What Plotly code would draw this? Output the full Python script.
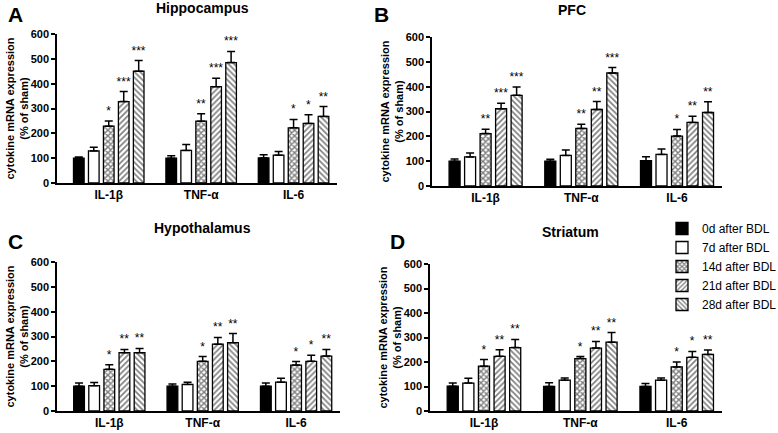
import plotly.graph_objects as go

cytokines = ["IL-1β", "TNF-α", "IL-6"]
time_points = ["0d after BDL", "7d after BDL", "14d after BDL", "21d after BDL", "28d after BDL"]

# mean (% of sham), one row per time point, columns IL-1β / TNF-α / IL-6
hippocampus_mean = [[100, 100, 101], [129, 131, 112], [229, 249, 222], [328, 388, 240], [450, 485, 268]]
hippocampus_sem = [[5, 10, 13], [15, 24, 15], [21, 30, 34], [40, 34, 35], [43, 45, 40]]
hippocampus_sig = [["", "", ""], ["", "", ""], ["*", "**", "*"], ["***", "***", "*"], ["***", "***", "**"]]

pfc_mean = [[100, 100, 102], [117, 123, 127], [211, 232, 201], [311, 308, 256], [365, 455, 296]]
pfc_sem = [[9, 8, 16], [16, 22, 22], [18, 17, 27], [22, 32, 25], [34, 22, 43]]
pfc_sig = [["", "", ""], ["", "", ""], ["**", "**", "*"], ["***", "**", "**"], ["***", "***", "**"]]

hypothalamus_mean = [[100, 100, 100], [102, 107, 116], [168, 200, 185], [235, 269, 200], [235, 275, 221]]
hypothalamus_sem = [[13, 9, 13], [13, 9, 16], [18, 19, 14], [13, 27, 25], [17, 37, 27]]
hypothalamus_sig = [["", "", ""], ["", "", ""], ["*", "*", "*"], ["**", "**", "*"], ["**", "**", "**"]]

striatum_mean = [[101, 100, 100], [114, 126, 126], [183, 214, 180], [223, 257, 219], [259, 281, 231]]
striatum_sem = [[13, 15, 12], [20, 9, 9], [27, 8, 20], [27, 27, 24], [33, 39, 18]]
striatum_sig = [["", "", ""], ["", "", ""], ["*", "*", "*"], ["**", "**", "*"], ["**", "**", "**"]]

panels = [
    ("A", "Hippocampus", hippocampus_mean, hippocampus_sem, hippocampus_sig),
    ("B", "PFC", pfc_mean, pfc_sem, pfc_sig),
    ("C", "Hypothalamus", hypothalamus_mean, hypothalamus_sem, hypothalamus_sig),
    ("D", "Striatum", striatum_mean, striatum_sem, striatum_sig),
]

W, H = 778, 433
# plot areas in pixels: left, right, top(600), bottom(0)
boxes = [(57, 337, 34, 183), (432, 722, 37, 186), (57, 340, 262, 411), (430, 722, 264, 411)]
# letter / title centres in pixels
letters = [(15, 15), (381, 15), (15, 241), (397, 241)]
titles = [(202, 8), (572, 10), (202, 228), (570, 232)]

FONT = "Liberation Sans, Arial, sans-serif"

fill = [
    dict(color="black"),
    dict(color="white"),
    dict(color="white", pattern=dict(shape="x", fgcolor="black", bgcolor="white", size=4, solidity=0.6)),
    dict(color="white", pattern=dict(shape="/", fgcolor="black", bgcolor="white", size=4, solidity=0.42)),
    dict(color="white", pattern=dict(shape="\\", fgcolor="black", bgcolor="white", size=4, solidity=0.42)),
]

fig = go.Figure()
layout = {}
annotations = []

for p, (letter, title, mean, sem, sig) in enumerate(panels):
    n = "" if p == 0 else str(p + 1)
    xa, ya = "x" + n, "y" + n
    for i, tp in enumerate(time_points):
        fig.add_trace(go.Bar(
            x=cytokines, y=mean[i], name=tp, xaxis=xa, yaxis=ya,
            offsetgroup=str(i), showlegend=(p == 3),
            marker=dict(line=dict(color="black", width=1.3), **fill[i]),
            error_y=dict(type="data", array=sem[i], arrayminus=[0, 0, 0], symmetric=False,
                         color="black", thickness=1.5, width=4),
        ))
        # invisible bars up to the error bar tip carry the significance stars
        fig.add_trace(go.Bar(
            x=cytokines, y=[m + s for m, s in zip(mean[i], sem[i])], xaxis=xa, yaxis=ya,
            offsetgroup=str(i), showlegend=False, hoverinfo="skip",
            marker=dict(color="rgba(0,0,0,0)", line=dict(width=0)),
            text=sig[i], textposition="outside", constraintext="none", cliponaxis=False,
            outsidetextfont=dict(family=FONT, size=12, color="black"),
        ))

    l, r, t, b = boxes[p]
    layout["xaxis" + n] = dict(
        domain=[l / W, r / W], anchor=ya, range=[-0.56, 2.47], automargin=False,
        showline=True, linecolor="black", linewidth=1.5, ticks="", showgrid=False,
        tickfont=dict(family=FONT, size=12, color="black", weight="bold"),
    )
    layout["yaxis" + n] = dict(
        domain=[1 - b / H, 1 - t / H], anchor=xa, range=[0, 600], dtick=100, automargin=False,
        showline=True, linecolor="black", linewidth=1.5, ticks="outside", ticklen=4,
        tickwidth=1.5, tickcolor="black", showgrid=False, zeroline=False,
        tickfont=dict(family=FONT, size=11, color="black", weight="bold"),
        title=dict(text="cytokine mRNA expression<br>(% of sham)", standoff=0,
                   font=dict(family=FONT, size=11, color="black", weight="bold")),
    )
    lx, ly = letters[p]
    annotations.append(dict(text="<b>" + letter + "</b>", x=lx / W, y=1 - ly / H, xref="paper", yref="paper",
                            xanchor="center", yanchor="middle", showarrow=False,
                            font=dict(family=FONT, size=21, color="black")))
    tx, ty = titles[p]
    annotations.append(dict(text="<b>" + title + "</b>", x=tx / W, y=1 - ty / H, xref="paper", yref="paper",
                            xanchor="center", yanchor="middle", showarrow=False,
                            font=dict(family=FONT, size=14, color="black")))

fig.update_layout(
    **layout,
    annotations=annotations,
    barmode="group", bargap=0.19, bargroupgap=0.29,
    width=W, height=H, margin=dict(l=0, r=0, t=0, b=0, autoexpand=False),
    paper_bgcolor="white", plot_bgcolor="white",
    font=dict(family=FONT, color="black"),
    legend=dict(x=662 / W, y=1 - 214 / H, xanchor="left", yanchor="top",
                font=dict(family=FONT, size=12, color="black"),
                tracegroupgap=0, itemwidth=30, bgcolor="rgba(0,0,0,0)"),
)

# drop the default page margin so the figure sits at the window's corner
fig.write_html("out.html", config={"displayModeBar": False},
               post_script="document.body.style.margin='0';")
